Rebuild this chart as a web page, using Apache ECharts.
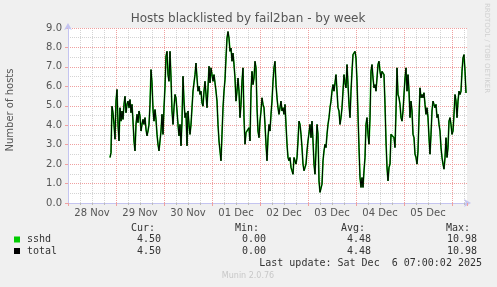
<!DOCTYPE html>
<html><head><meta charset="utf-8">
<script src="https://cdn.jsdelivr.net/npm/echarts@6/dist/echarts.min.js"></script>
<style>html,body{margin:0;padding:0;background:#f0f0f0}#c{width:497px;height:287px}</style>
</head><body><div id="c"></div><script>
// hours since 28 Nov 00:00; samples every 30 minutes
const startHour = 21;
const stepHours = 0.5;
const dayLabels = ['28 Nov','29 Nov','30 Nov','01 Dec','02 Dec','03 Dec','04 Dec','05 Dec'];
const sshd = [
2.34,2.59,4.98,4.64,4.04,3.28,5.24,5.84,4.04,3.19,
4.90,4.21,4.73,4.30,5.07,5.49,4.64,5.07,5.24,4.90,
5.32,4.64,5.07,4.21,3.19,2.68,4.04,4.56,4.13,4.73,
4.47,3.70,4.04,4.30,4.04,4.39,3.79,3.45,3.70,4.04,
5.07,6.86,6.18,4.81,4.21,4.81,4.30,3.53,3.02,2.68,
3.19,3.70,4.56,3.53,4.90,6.00,7.54,7.80,6.60,6.26,
7.80,6.43,4.73,4.04,4.90,5.58,5.41,4.73,4.04,3.45,
4.04,2.94,4.21,6.52,5.24,4.39,4.64,2.94,4.73,4.04,
3.53,4.04,4.90,5.75,6.18,6.60,7.20,6.43,5.75,6.01,
5.58,5.75,5.15,4.98,5.75,6.26,5.58,4.90,5.92,7.03,
6.18,6.95,6.60,6.26,6.60,6.18,5.75,5.24,4.04,3.19,
2.68,2.17,3.53,4.90,5.75,6.35,7.46,8.48,8.82,8.48,
7.80,7.97,7.29,7.71,7.12,6.43,5.24,5.75,6.43,5.75,
4.39,5.07,6.26,6.95,4.39,3.02,3.62,3.70,3.62,3.87,
3.19,5.75,6.77,6.09,6.43,7.29,6.95,4.90,3.70,3.36,
4.21,4.73,5.41,5.07,4.90,4.04,3.02,2.17,3.36,4.04,
3.70,4.56,5.24,6.26,6.95,7.29,6.09,5.41,4.90,4.56,
4.90,5.24,4.73,4.90,4.56,5.07,4.04,3.02,2.34,2.17,
2.34,1.83,1.66,1.48,2.34,2.25,2.00,2.34,3.19,4.21,
4.04,3.53,2.85,2.00,1.66,1.83,2.00,2.68,3.19,3.28,
4.04,3.36,4.21,3.19,2.00,1.48,2.68,4.04,3.53,1.14,
0.55,0.46,0.97,2.17,2.68,3.02,2.85,3.53,4.04,4.39,
4.90,5.24,5.75,6.09,5.75,6.18,6.60,5.75,4.90,4.73,
4.04,4.39,4.90,5.75,6.60,6.18,5.92,7.12,6.09,5.07,
4.39,5.75,6.77,7.63,7.71,7.80,7.46,6.26,4.56,2.85,
1.31,0.80,1.31,0.80,1.66,2.34,4.04,4.39,3.53,3.02,
4.39,6.77,7.12,6.43,5.92,6.09,5.75,6.43,7.12,7.29,
6.77,6.43,6.77,6.69,6.60,5.07,3.19,1.83,1.14,1.83,
2.00,3.53,3.53,3.45,3.36,2.85,4.73,6.95,5.58,5.41,
5.07,4.39,4.21,4.73,4.81,6.43,6.95,5.75,6.60,5.75,
4.39,5.24,4.73,3.53,3.36,2.51,2.34,2.00,2.68,4.39,
5.92,5.41,5.58,5.41,5.67,5.07,4.56,4.90,4.39,3.36,
2.51,3.53,4.73,5.24,5.07,4.90,5.07,4.39,4.56,4.04,
3.70,2.85,2.34,2.00,1.74,2.34,3.36,2.34,2.85,4.21,
4.39,4.04,3.53,3.70,4.56,5.58,5.24,4.39,5.24,5.75,
5.58,5.75,6.77,7.46,7.63,6.77,5.66
];
const total = sshd.slice(); // total equals sshd (single jail)
const legendNames = ['sshd','total'];
const statCur = ['4.50','4.50'];
const statMin = ['0.00','0.00'];
const statAvg = ['4.48','4.48'];
const statMax = ['10.98','10.98'];
const lastUpdate = 'Last update: Sat Dec  6 07:00:02 2025';

const toPairs = arr => arr.map((v,i)=>[startHour + i*stepHours, v]);

const FONT = 'DejaVu Sans';
const MONO = 'DejaVu Sans Mono';
const TXT = '#555';
const AXIS = '#c4c4f0';
const MINOR = '#d4d4d4';
const MAJOR = '#f0a0a0';
const X0 = 0, X1 = 199.5;

const chart = echarts.init(document.getElementById('c'), null, {renderer:'canvas'});
const mono = (text, x, y, align, color) => ({type:'text', x, y, style:{text, x:0, y:0, align, verticalAlign:'middle', font:'10px "'+MONO+'"', fill: color||'#333'}});
const graphics = [
  {type:'text', x:248, y:19, style:{text:'Hosts blacklisted by fail2ban - by week', align:'center', verticalAlign:'middle', font:'12px "'+FONT+'"', fill:TXT}},
  {type:'text', x:10, y:110, rotation:Math.PI/2, style:{text:'Number of hosts', align:'center', verticalAlign:'middle', font:'10px "'+FONT+'"', fill:TXT}},
  {type:'text', x:487, y:48, rotation:-Math.PI/2, style:{text:'RRDTOOL / TOBI OETIKER', align:'center', verticalAlign:'middle', font:'7px "'+FONT+'"', fill:'#d0d0d0'}},
  mono('Cur:',155,228,'right'), mono('Min:',259,228,'right'), mono('Avg:',365,228,'right'), mono('Max:',470,228,'right'),
  mono(lastUpdate,482,263.5,'right'),
  {type:'text', x:248, y:276, style:{text:'Munin 2.0.76', align:'center', verticalAlign:'middle', font:'8px "'+FONT+'"', fill:'#c8c8c8'}}
];
const sqColors = ['#00cc00','#000000'];
legendNames.forEach((n,i)=>{
  const y = 239.5 + i*11.5;
  graphics.push({type:'rect', shape:{x:14, y:y-3, width:6, height:6}, style:{fill:sqColors[i]}});
  graphics.push(mono(n,27,y,'left'));
  graphics.push(mono(statCur[i],161,y,'right'));
  graphics.push(mono(statMin[i],266,y,'right'));
  graphics.push(mono(statAvg[i],371,y,'right'));
  graphics.push(mono(statMax[i],477,y,'right'));
});

chart.setOption({
  animation:false,
  backgroundColor:'#f0f0f0',
  grid:{left:68, top:28, width:399, height:175, show:true, backgroundColor:'#ffffff', borderWidth:0},
  xAxis:[
    {type:'value', min:X0, max:X1, interval:6, z:1, position:'bottom', offset:0,
     axisLine:{show:true, lineStyle:{color:AXIS, width:1}, symbol:['none','arrow'], symbolSize:[6,7], symbolOffset:[0,4]},
     axisTick:{show:true, length:2, lineStyle:{color:'#bbb'}},
     axisLabel:{show:false},
     splitLine:{show:true, showMaxLine:false, showMinLine:false, lineStyle:{color:MINOR, type:[1,1], width:1}}},
    {type:'value', min:X0, max:X1, interval:24, z:2, position:'bottom', offset:0,
     axisLine:{show:false}, axisTick:{show:true, length:3, lineStyle:{color:MAJOR}},
     axisLabel:{show:false},
     splitLine:{show:true, showMaxLine:false, showMinLine:false, lineStyle:{color:MAJOR, type:[1,1], width:1}}},
    {type:'value', min:X0, max:X1, interval:12, z:3, position:'bottom', offset:0,
     axisLine:{show:false}, axisTick:{show:false}, splitLine:{show:false},
     axisLabel:{show:true, margin:5, color:TXT, fontFamily:FONT, fontSize:10, showMinLabel:true, showMaxLabel:true,
       formatter:v=>{ if (v % 24 === 12) { const k=(v-12)/24; return dayLabels[k]||''; } return ''; }}}
  ],
  yAxis:[
    {type:'value', min:0, max:9, interval:1, z:2, position:'left', offset:0,
     axisLine:{show:true, lineStyle:{color:AXIS, width:1}, symbol:['none','arrow'], symbolSize:[6,7], symbolOffset:[0,5]},
     axisTick:{show:true, length:3, lineStyle:{color:MAJOR}},
     axisLabel:{show:true, margin:6, color:TXT, fontFamily:FONT, fontSize:10, formatter:v=>v.toFixed(1)},
     splitLine:{show:true, showMinLine:false, lineStyle:{color:MAJOR, type:[1,1], width:1}}},
    {type:'value', min:0, max:9, interval:0.5, z:1, position:'left', offset:0,
     axisLine:{show:false}, axisTick:{show:false}, axisLabel:{show:false},
     splitLine:{show:true, showMinLine:false, showMaxLine:false, lineStyle:{color:MINOR, type:[1,1], width:1}}}
  ],
  series:[
    {name:'sshd', type:'line', xAxisIndex:0, yAxisIndex:0, data:toPairs(sshd), showSymbol:false, symbol:'none',
     lineStyle:{color:'#00cc00', width:1.6}, z:5},
    {name:'total', type:'line', xAxisIndex:0, yAxisIndex:0, data:toPairs(total), showSymbol:false, symbol:'none',
     lineStyle:{color:'#000000', width:1}, z:6}
  ],
  graphic:graphics
});
</script></body></html>
